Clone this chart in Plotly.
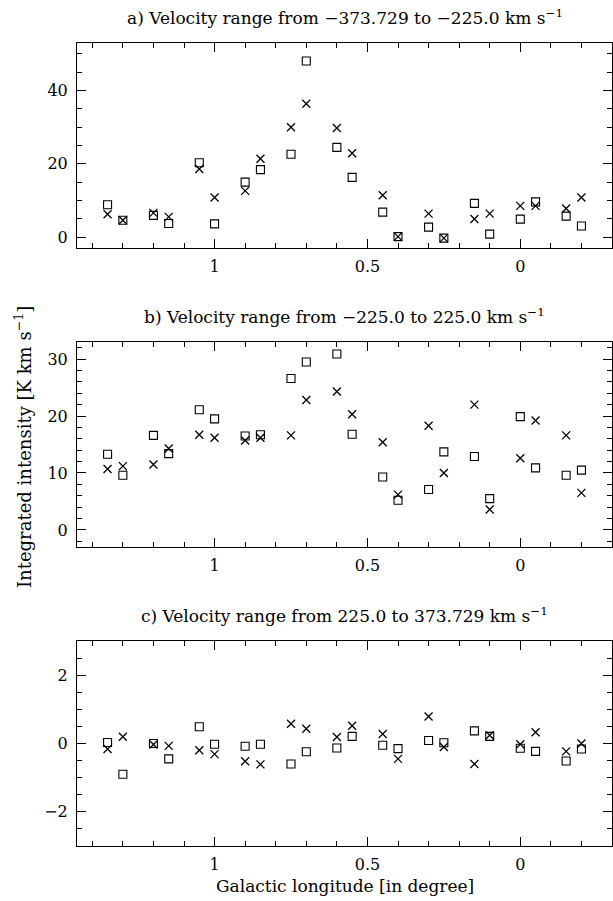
import plotly.graph_objects as go

lon = [1.35, 1.30, 1.20, 1.15, 1.05, 1.00, 0.90, 0.85, 0.75, 0.70, 0.60,
       0.55, 0.45, 0.40, 0.30, 0.25, 0.15, 0.10, 0.00, -0.05, -0.15, -0.20]

a_sq = [8.8, 4.6, 5.9, 3.7, 20.3, 3.6, 15.0, 18.4, 22.6, 48.1, 24.5,
        16.3, 6.8, 0.1, 2.7, -0.3, 9.2, 0.8, 4.9, 9.6, 5.7, 3.0]
a_x = [6.2, 4.6, 6.6, 5.5, 18.6, 10.8, 12.6, 21.4, 30.0, 36.4, 29.8,
       22.9, 11.4, 0.1, 6.4, -0.3, 4.9, 6.4, 8.5, 8.5, 7.8, 10.8]

b_sq = [13.3, 9.6, 16.6, 13.4, 21.1, 19.5, 16.5, 16.7, 26.6, 29.5, 30.9,
        16.8, 9.3, 5.2, 7.1, 13.7, 12.9, 5.5, 19.9, 10.9, 9.6, 10.5]
b_x = [10.7, 11.2, 11.5, 14.3, 16.7, 16.2, 15.7, 16.2, 16.6, 22.8, 24.3,
       20.3, 15.4, 6.2, 18.3, 10.0, 22.0, 3.6, 12.6, 19.2, 16.6, 6.5]

c_sq = [0.03, -0.90, 0.0, -0.45, 0.49, -0.02, -0.08, -0.02, -0.60, -0.24, -0.13,
        0.21, -0.05, -0.15, 0.09, 0.02, 0.37, 0.21, -0.14, -0.23, -0.51, -0.16]
c_x = [-0.16, 0.20, -0.03, -0.07, -0.20, -0.31, -0.52, -0.61, 0.58, 0.43, 0.19,
       0.52, 0.28, -0.45, 0.79, -0.10, -0.60, 0.24, -0.02, 0.33, -0.23, 0.0]

titles = ["a) Velocity range from \u2212373.729 to \u2212225.0 km s<sup>\u22121</sup>",
          "b) Velocity range from \u2212225.0 to 225.0 km s<sup>\u22121</sup>",
          "c) Velocity range from 225.0 to 373.729 km s<sup>\u22121</sup>"]

W, H = 613, 901
FONT = "DejaVu Serif"
TFS = 17
x0, x1 = 77, 612
panels = [
    dict(sq=a_sq, x=a_x, rng=[-3, 53], dt=20, mdt=5, top=43, bot=248),
    dict(sq=b_sq, x=b_x, rng=[-3, 33], dt=10, mdt=2, top=342, bot=547),
    dict(sq=c_sq, x=c_x, rng=[-3, 3], dt=2, mdt=0.5, top=641, bot=846),
]

fig = go.Figure()
layout = dict(width=W, height=H, margin=dict(l=0, r=0, t=0, b=0),
              plot_bgcolor="white", paper_bgcolor="white", showlegend=False,
              font=dict(family=FONT, size=15, color="black"))
annotations = []
for i, p in enumerate(panels):
    n = "" if i == 0 else str(i + 1)
    xa, ya = "x" + n, "y" + n
    fig.add_trace(go.Scatter(x=lon, y=p["sq"], mode="markers", xaxis=xa, yaxis=ya,
                             marker=dict(symbol="square-open", size=8, color="black",
                                         line=dict(width=1.1, color="black"))))
    fig.add_trace(go.Scatter(x=lon, y=p["x"], mode="markers", xaxis=xa, yaxis=ya,
                             marker=dict(symbol="x-thin-open", size=8, color="black",
                                         line=dict(width=1.3, color="black"))))
    common = dict(showline=True, linecolor="black", linewidth=1, mirror="allticks",
                  ticks="inside", tickcolor="black", tickwidth=1, ticklen=9,
                  showgrid=False, zeroline=False, tickfont=dict(family=FONT, size=16))
    layout["xaxis" + n] = dict(common, domain=[x0 / W, x1 / W], range=[1.45, -0.3],
                               anchor=ya, tickvals=[1, 0.5, 0], ticktext=["1", "0.5", "0"],
                               ticklabelstandoff=4,
                               minor=dict(ticks="inside", dtick=0.1, tick0=0, ticklen=5,
                                          tickcolor="black", tickwidth=1))
    layout["yaxis" + n] = dict(common, domain=[1 - p["bot"] / H, 1 - p["top"] / H],
                               range=p["rng"], anchor=xa, dtick=p["dt"], tick0=0,
                               ticklabelstandoff=5,
                               minor=dict(ticks="inside", dtick=p["mdt"], tick0=0, ticklen=5,
                                          tickcolor="black", tickwidth=1))
    annotations.append(dict(text=titles[i], xref="paper", yref="paper",
                            x=(x0 + x1) / 2 / W, y=1 - (p["top"] - 26) / H,
                            xanchor="center", yanchor="middle", showarrow=False,
                            font=dict(family=FONT, size=TFS)))

annotations.append(dict(text="Integrated intensity [K km s<sup>\u22121</sup>]", xref="paper",
                        yref="paper", x=23 / W, y=1 - 447 / H, textangle=-90,
                        xanchor="center", yanchor="middle", showarrow=False,
                        font=dict(family=FONT, size=TFS + 1)))
annotations.append(dict(text="Galactic longitude [in degree]", xref="paper", yref="paper",
                        x=(x0 + x1) / 2 / W, y=1 - 886 / H, xanchor="center",
                        yanchor="middle", showarrow=False, font=dict(family=FONT, size=TFS)))
layout["annotations"] = annotations
fig.update_layout(**layout)
fig.write_html("out.html")
